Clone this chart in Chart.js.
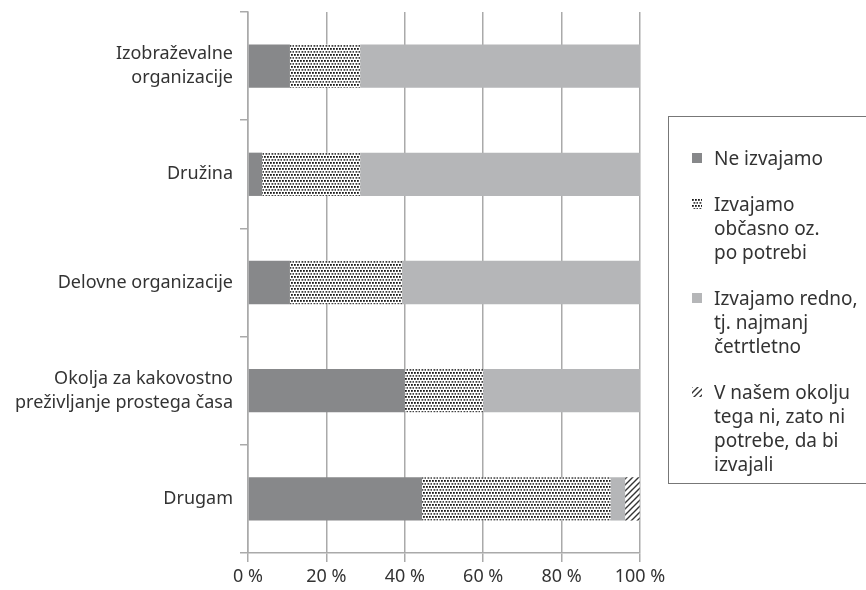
<!DOCTYPE html>
<html>
<head>
<meta charset="utf-8">
<script src="https://cdn.jsdelivr.net/npm/chart.js@4.4.1/dist/chart.umd.min.js"></script>
<style>
  body { margin: 0; background: #fff; overflow: hidden; }
  #wrap { position: relative; width: 866px; height: 590px; }
  #legend {
    position: absolute; left: 668px; top: 116px; width: 210px; height: 368px;
    border: 1.5px solid #777; box-sizing: border-box; padding-top: 29px;
    font-family: "Noto Sans", sans-serif; font-size: 19px; color: #333;
  }
  .item { position: relative; padding-left: 45px; line-height: 24px; margin-bottom: 22px; }
  .item canvas { position: absolute; left: 23px; top: 7px; }
</style>
</head>
<body>
<div id="wrap">
  <canvas id="chart" width="866" height="590"></canvas>
  <div id="legend"></div>
</div>
<script>
// categories and values (percent of respondents)
var categories = [
    ['Izobraževalne', 'organizacije'],
    'Družina',
    'Delovne organizacije',
    ['Okolja za kakovostno', 'preživljanje prostega časa'],
    'Drugam'
];
var neIzvajamo = [10.7, 3.6, 10.7, 40, 44.4];
var obcasno = [17.9, 25.0, 28.6, 20, 48.1];
var redno = [71.4, 71.4, 60.7, 40, 3.7];
var niPotrebe = [0, 0, 0, 0, 3.7];
var seriesNames = [
    ['Ne izvajamo'],
    ['Izvajamo', 'občasno oz.', 'po potrebi'],
    ['Izvajamo redno,', 'tj. najmanj', 'četrtletno'],
    ['V našem okolju', 'tega ni, zato ni', 'potrebe, da bi', 'izvajali']
];
var xTicks = [0, 20, 40, 60, 80, 100];

function dotPattern() {
    var c = document.createElement('canvas');
    c.width = 6; c.height = 6;
    var g = c.getContext('2d');
    g.fillStyle = '#fff';
    g.fillRect(0, 0, 6, 6);
    g.fillStyle = '#1a1a1a';
    g.fillRect(0, 0, 1.8, 1.8);
    g.fillRect(3, 0, 1.8, 1.8);
    g.fillStyle = '#444';
    g.fillRect(1.5, 3, 1.8, 1.8);
    g.fillRect(4.5, 3, 1.8, 1.8);
    return g.createPattern(c, 'repeat');
}

function hatchPattern() {
    var c = document.createElement('canvas');
    c.width = 6; c.height = 6;
    var g = c.getContext('2d');
    g.fillStyle = '#fff';
    g.fillRect(0, 0, 6, 6);
    g.strokeStyle = '#333';
    g.lineWidth = 1.4;
    g.beginPath();
    g.moveTo(0, 6); g.lineTo(6, 0);
    g.moveTo(-3, 3); g.lineTo(3, -3);
    g.moveTo(3, 9); g.lineTo(9, 3);
    g.stroke();
    return g.createPattern(c, 'repeat');
}

var fills = ['#87888a', dotPattern(), '#b5b6b8', hatchPattern()];
var values = [neIzvajamo, obcasno, redno, niPotrebe];

var datasets = [];
for (var i = 0; i < values.length; i++) {
    datasets.push({
        label: seriesNames[i].join(' '),
        data: values[i],
        backgroundColor: fills[i],
        borderWidth: 0,
        categoryPercentage: 0.8,
        barPercentage: 0.5
    });
}

var font = { family: '"Noto Sans", sans-serif', size: 18, lineHeight: 1.33 };

new Chart(document.getElementById('chart'), {
    type: 'bar',
    data: { labels: categories, datasets: datasets },
    options: {
        indexAxis: 'y',
        responsive: false,
        animation: false,
        layout: { padding: { top: 12, right: 226, left: 0, bottom: 0 } },
        plugins: { legend: { display: false }, tooltip: { enabled: false } },
        scales: {
            x: {
                stacked: true,
                min: 0, max: 100,
                afterBuildTicks: function (scale) {
                    scale.ticks = xTicks.map(function (v) { return { value: v }; });
                },
                afterFit: function (scale) {
                    scale.height = 37;
                    scale.paddingLeft = 0;
                    scale.paddingRight = 0;
                },
                grid: { color: '#aaa', lineWidth: 1.5, tickLength: 9 },
                border: { color: '#aaa', width: 1.5 },
                ticks: {
                    color: '#333', font: font, padding: 3,
                    callback: function (v) { return v + ' %'; }
                }
            },
            y: {
                stacked: true,
                afterFit: function (scale) {
                    scale.width = 248;
                    scale.paddingTop = 0;
                    scale.paddingBottom = 0;
                },
                grid: { color: '#aaa', lineWidth: 1.5, offset: true, drawOnChartArea: false, tickLength: 8 },
                border: { color: '#aaa', width: 1.5 },
                ticks: { color: '#333', font: font, padding: 7 }
            }
        }
    }
});

// legend built from series names and fills
var legend = document.getElementById('legend');
for (var k = 0; k < seriesNames.length; k++) {
    var item = document.createElement('div');
    item.className = 'item';
    var sw = document.createElement('canvas');
    sw.width = 10; sw.height = 10;
    var sg = sw.getContext('2d');
    sg.fillStyle = fills[k];
    sg.fillRect(0, 0, 10, 10);
    item.appendChild(sw);
    for (var l = 0; l < seriesNames[k].length; l++) {
        if (l > 0) item.appendChild(document.createElement('br'));
        item.appendChild(document.createTextNode(seriesNames[k][l]));
    }
    legend.appendChild(item);
}
</script>
</body>
</html>
